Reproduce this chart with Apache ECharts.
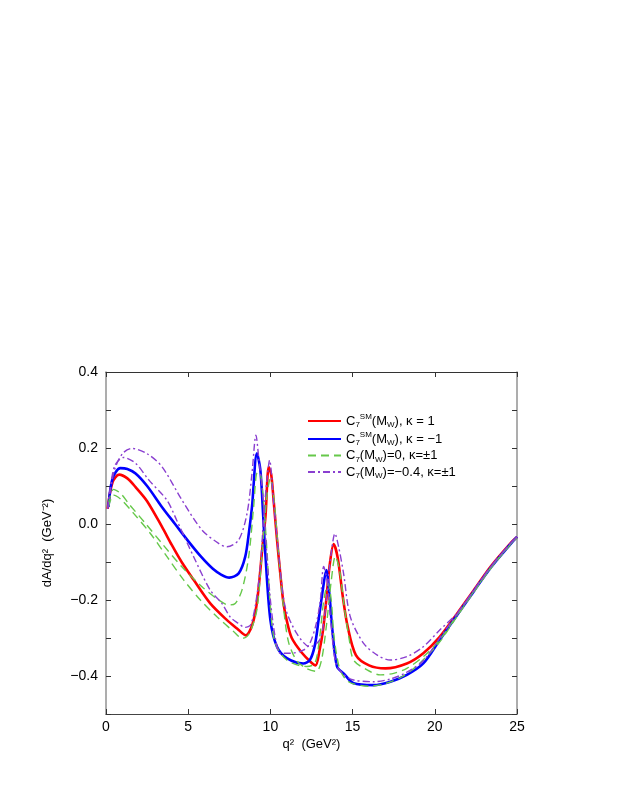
<!DOCTYPE html>
<html><head><meta charset="utf-8">
<script src="https://cdn.jsdelivr.net/npm/echarts@6/dist/echarts.min.js"></script>
<style>html,body{margin:0;padding:0;background:#fff}#c{width:623px;height:806px}</style>
</head><body><div id="c"></div><script>
// ---- data ----
const xTicks = [0, 5, 10, 15, 20, 25];
const yTickLabels = ['\u22120.4', '\u22120.2', '0.0', '0.2', '0.4'];

const redQ = [0.1,0.4,0.8,1.3,1.8,2.5,3.4,4.0,4.6,5.33,6.34,7.36,7.97,8.5,8.9,9.2,9.5,9.7,9.9,10.05,10.2,10.4,10.6,10.8,11.0,11.3,11.9,12.5,12.75,13.0,13.2,13.4,13.6,13.85,14.1,14.4,14.7,15.2,16.0,17.0,18.3,19.3,20.3,21.35,22.36,23.4,24.6,25];
const redV = [0.04,0.11,0.13,0.12,0.097,0.06,-0.007,-0.055,-0.1,-0.147,-0.209,-0.253,-0.275,-0.293,-0.265,-0.2,-0.068,0.02,0.15,0.13,0.06,-0.04,-0.13,-0.21,-0.255,-0.3,-0.338,-0.365,-0.372,-0.33,-0.28,-0.2,-0.11,-0.053,-0.09,-0.19,-0.27,-0.345,-0.372,-0.38,-0.367,-0.34,-0.297,-0.236,-0.175,-0.112,-0.051,-0.034];

const blueQ = [0.15,0.4,0.87,1.3,1.8,2.5,3.4,4.2,5.0,5.74,6.5,7.0,7.5,8.07,8.47,8.7,8.88,9.18,9.39,9.55,9.69,10.0,10.4,11.0,12.0,12.4,12.7,12.93,13.2,13.4,13.6,13.75,14.05,14.45,15.06,16.28,17.3,18.3,19.3,20.3,21.35,22.36,23.4,24.6,25];
const blueV = [0.045,0.12,0.147,0.145,0.133,0.1,0.045,0.0,-0.045,-0.084,-0.118,-0.133,-0.141,-0.13,-0.086,-0.02,0.045,0.186,0.142,0.03,-0.077,-0.253,-0.323,-0.353,-0.367,-0.358,-0.32,-0.253,-0.17,-0.121,-0.19,-0.27,-0.375,-0.393,-0.419,-0.424,-0.415,-0.397,-0.367,-0.305,-0.24,-0.178,-0.115,-0.053,-0.034];

const greenAQ = [0.15,0.46,0.9,1.37,2.39,3.4,4.6,5.84,6.85,7.46,7.86,8.27,8.68,8.98,9.2,9.4,9.59,9.8,10.0,10.3,11.0,12.2,12.7,13.0,13.25,13.5,13.7,13.85,14.05,14.25,14.6,15.0,16.0,17.0,18.0,19.0,20.3,21.35,22.36,23.4,24.6,25];
const greenAV = [0.054,0.091,0.08,0.054,0.002,-0.051,-0.112,-0.165,-0.2,-0.213,-0.209,-0.174,-0.086,0.045,0.135,0.13,0.054,-0.077,-0.218,-0.314,-0.358,-0.375,-0.367,-0.297,-0.2,-0.156,-0.2,-0.288,-0.35,-0.385,-0.41,-0.42,-0.427,-0.42,-0.402,-0.37,-0.31,-0.243,-0.18,-0.117,-0.054,-0.036];

const greenBQ = [0.15,0.46,0.9,1.68,2.7,3.71,4.72,5.74,6.75,7.76,8.3,8.6,8.9,9.2,9.45,9.6,9.8,10.0,10.25,10.5,10.8,11.1,11.6,12.2,12.8,13.1,13.4,13.7,13.95,14.2,14.5,14.8,15.06,15.88,16.68,17.5,18.3,19.3,20.3,21.35,22.36,23.4,24.6,25];
const greenBV = [0.045,0.076,0.065,0.028,-0.025,-0.086,-0.147,-0.2,-0.244,-0.283,-0.301,-0.295,-0.27,-0.22,-0.1,-0.02,0.08,0.12,0.05,-0.08,-0.22,-0.31,-0.36,-0.38,-0.388,-0.36,-0.27,-0.15,-0.085,-0.12,-0.22,-0.305,-0.358,-0.384,-0.397,-0.393,-0.38,-0.349,-0.305,-0.24,-0.178,-0.115,-0.053,-0.034];

const purpleAQ = [0.1,0.5,1.0,1.58,2.5,3.4,4.62,5.84,6.85,7.36,8.07,8.58,8.88,9.12,9.3,9.49,9.7,10.0,10.3,10.6,11.2,12.0,12.4,12.8,13.04,13.24,13.45,13.7,14.0,14.45,15.0,16.3,17.3,18.3,19.3,20.3,21.35,22.36,23.4,24.6,25];
const purpleAV = [0.04,0.14,0.185,0.199,0.185,0.151,0.063,-0.016,-0.051,-0.06,-0.042,0.028,0.133,0.234,0.17,0.098,-0.03,-0.2,-0.3,-0.34,-0.34,-0.332,-0.314,-0.26,-0.2,-0.112,-0.15,-0.27,-0.37,-0.395,-0.41,-0.415,-0.408,-0.39,-0.36,-0.3,-0.237,-0.176,-0.113,-0.051,-0.034];

const purpleBQ = [0.1,0.5,1.07,1.8,2.6,3.7,4.3,5.33,6.34,7.05,7.56,8.0,8.47,8.8,9.1,9.39,9.59,9.8,9.95,10.2,10.5,10.9,11.6,12.4,13.0,13.3,13.55,13.75,13.92,14.15,14.45,14.86,15.67,16.5,17.3,18.3,19.3,20.3,21.35,22.36,23.4,24.6,25];
const purpleBV = [0.04,0.15,0.175,0.16,0.116,0.063,0.01,-0.086,-0.174,-0.209,-0.245,-0.26,-0.272,-0.265,-0.21,-0.112,0.019,0.12,0.168,0.054,-0.077,-0.218,-0.288,-0.323,-0.305,-0.24,-0.13,-0.06,-0.025,-0.06,-0.13,-0.244,-0.314,-0.345,-0.358,-0.349,-0.323,-0.279,-0.235,-0.174,-0.112,-0.051,-0.034];

const legendNames = ['sm_k1', 'sm_km1', 'c0', 'c04'];
// ---------------------------------------

function pairs(q, v) { return q.map((x, i) => [x, v[i]]); }

const FONT = '"Liberation Sans", Arial, Helvetica, sans-serif';
const RED = '#ff0000', BLUE = '#0000ff', GREEN = '#66c84a', PURPLE = '#8a3fd0';

function mk(name, q, v, color, width, dash, z) {
  return {
    type: 'line', name: name, data: pairs(q, v),
    showSymbol: false, symbol: 'none', smooth: 0.3,
    lineStyle: { color: color, width: width, type: dash },
    itemStyle: { color: color }, z: z, silent: true
  };
}

const legendRich = {
  sm_k1: '{b|C}{s|7}{p|SM}{b|(M}{s|W}{b|), \u03ba = 1}',
  sm_km1: '{b|C}{s|7}{p|SM}{b|(M}{s|W}{b|), \u03ba = \u22121}',
  c0: '{b|C}{s|7}{b|(M}{s|W}{b|)=0, \u03ba=\u00b11}',
  c04: '{b|C}{s|7}{b|(M}{s|W}{b|)=\u22120.4, \u03ba=\u00b11}'
};

const axisCommonY = {
  type: 'value', min: -0.5, max: 0.4, interval: 0.1,
  splitLine: { show: false },
  axisTick: { inside: true, length: 5, lineStyle: { color: '#333' } }
};
const axisCommonX = {
  type: 'value', min: 0, max: 25, interval: 5,
  splitLine: { show: false },
  axisTick: { inside: true, length: 5, lineStyle: { color: '#333' } }
};

const chart = echarts.init(document.getElementById('c'), null, { renderer: 'canvas' });
chart.setOption({
  backgroundColor: '#fff',
  animation: false,
  textStyle: { fontFamily: FONT },
  grid: { left: 106, right: 106, top: 372, bottom: 92, containLabel: false },
  legend: {
    data: legendNames,
    orient: 'vertical', left: 302, top: 408, itemGap: 2,
    itemWidth: 33, itemHeight: 12,
    itemStyle: { opacity: 0 },
    formatter: n => legendRich[n],
    textStyle: {
      fontFamily: FONT, color: '#000',
      rich: {
        b: { fontSize: 13, lineHeight: 16, fontFamily: FONT, color: '#000' },
        s: { fontSize: 8, fontFamily: FONT, color: '#000', verticalAlign: 'bottom', lineHeight: 9 },
        p: { fontSize: 8, fontFamily: FONT, color: '#000', verticalAlign: 'top', lineHeight: 9 }
      }
    }
  },
  xAxis: [
    Object.assign({}, axisCommonX, {
      position: 'bottom',
      name: 'q\u00b2  (GeV\u00b2)', nameLocation: 'middle', nameGap: 24,
      nameTextStyle: { fontSize: 13, color: '#000', fontFamily: FONT },
      axisLine: { onZero: false, lineStyle: { color: '#444', width: 1.2 } },
      axisLabel: { fontSize: 14, color: '#000', margin: 6, fontFamily: FONT,
        formatter: v => (xTicks.indexOf(Math.round(v)) >= 0 ? String(Math.round(v)) : '') }
    }),
    Object.assign({}, axisCommonX, {
      position: 'top',
      axisLine: { onZero: false, lineStyle: { color: '#333', width: 1 } },
      axisLabel: { show: false }
    })
  ],
  yAxis: [
    Object.assign({}, axisCommonY, {
      position: 'left',
      name: 'dA/dq\u00b2  (GeV\u207b\u00b2)', nameLocation: 'middle', nameGap: 52,
      nameTextStyle: { fontSize: 13, color: '#000', fontFamily: FONT },
      axisLine: { onZero: false, lineStyle: { color: '#999', width: 1.6 } },
      axisLabel: { fontSize: 14, color: '#000', margin: 8, fontFamily: FONT,
        formatter: function (v) {
          const k = Math.round(v * 10);
          if (k % 2 !== 0 || k === -5) return '';
          return yTickLabels[(k + 4) / 2];
        } }
    }),
    Object.assign({}, axisCommonY, {
      position: 'right',
      axisLine: { onZero: false, lineStyle: { color: '#999', width: 1.6 } },
      axisLabel: { show: false }
    })
  ],
  series: [
    mk('sm_k1', redQ, redV, RED, 2.6, 'solid', 2),
    mk('sm_km1', blueQ, blueV, BLUE, 2.6, 'solid', 3),
    mk('c0', greenAQ, greenAV, GREEN, 1.4, [8, 5], 4),
    mk('c0', greenBQ, greenBV, GREEN, 1.4, [8, 5], 4),
    mk('c04', purpleAQ, purpleAV, PURPLE, 1.4, [7, 3, 2, 3], 5),
    mk('c04', purpleBQ, purpleBV, PURPLE, 1.4, [7, 3, 2, 3], 5)
  ]
});
</script></body></html>
